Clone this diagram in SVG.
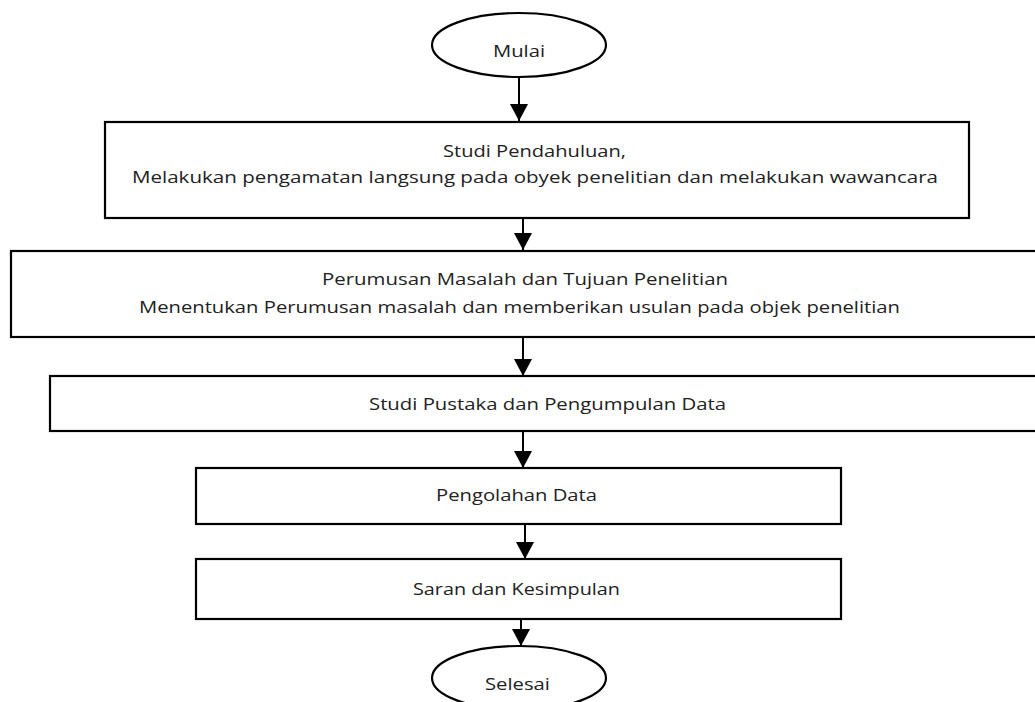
<svg xmlns="http://www.w3.org/2000/svg" width="1035" height="702" viewBox="0 0 1035 702">
<style>
.box{fill:#fff;stroke:#000;stroke-width:2.2}
.t{font-family:"Open Sans","Liberation Sans",sans-serif;font-size:16.5px;fill:#222;text-anchor:start}
.c{stroke:#000;stroke-width:2;fill:none}
</style>
<defs>
<marker id="ah" markerUnits="userSpaceOnUse" markerWidth="18" markerHeight="18" refX="17" refY="9" orient="auto">
<path d="M0,0 L17,9 L0,18 Z" fill="#000"/>
</marker>
</defs>
<rect width="1035" height="702" fill="#fff"/>
<g id="connectors">
<line class="c" x1="519" y1="77" x2="519" y2="121" marker-end="url(#ah)"/>
<line class="c" x1="523" y1="218" x2="523" y2="250" marker-end="url(#ah)"/>
<line class="c" x1="523" y1="337" x2="523" y2="376" marker-end="url(#ah)"/>
<line class="c" x1="523" y1="431" x2="523" y2="468" marker-end="url(#ah)"/>
<line class="c" x1="525" y1="524" x2="525" y2="559" marker-end="url(#ah)"/>
<line class="c" x1="521" y1="619" x2="521" y2="646" marker-end="url(#ah)"/>
</g>
<g id="mulai">
<ellipse class="box" cx="519" cy="45" rx="87" ry="32"/>
<text class="t" x="493" y="57" textLength="52" lengthAdjust="spacingAndGlyphs">Mulai</text>
</g>
<g id="studi-pendahuluan">
<rect class="box" x="105" y="122" width="864" height="96"/>
<text class="t" x="443" y="157" textLength="183" lengthAdjust="spacingAndGlyphs">Studi Pendahuluan,</text>
<text class="t" x="132" y="183" textLength="806" lengthAdjust="spacingAndGlyphs">Melakukan pengamatan langsung pada obyek penelitian dan melakukan wawancara</text>
</g>
<g id="perumusan">
<rect class="box" x="11" y="251" width="1040" height="86"/>
<text class="t" x="322" y="285" textLength="406" lengthAdjust="spacingAndGlyphs">Perumusan Masalah dan Tujuan Penelitian</text>
<text class="t" x="139" y="313" textLength="761" lengthAdjust="spacingAndGlyphs">Menentukan Perumusan masalah dan memberikan usulan pada objek penelitian</text>
</g>
<g id="studi-pustaka">
<rect class="box" x="50" y="376" width="1000" height="55"/>
<text class="t" x="369" y="410" textLength="357" lengthAdjust="spacingAndGlyphs">Studi Pustaka dan Pengumpulan Data</text>
</g>
<g id="pengolahan">
<rect class="box" x="196" y="468" width="645" height="56"/>
<text class="t" x="436" y="501" textLength="161" lengthAdjust="spacingAndGlyphs">Pengolahan Data</text>
</g>
<g id="saran">
<rect class="box" x="196" y="559" width="645" height="60"/>
<text class="t" x="413" y="595" textLength="207" lengthAdjust="spacingAndGlyphs">Saran dan Kesimpulan</text>
</g>
<g id="selesai">
<ellipse class="box" cx="519" cy="678" rx="87" ry="32"/>
<text class="t" x="485" y="690" textLength="65" lengthAdjust="spacingAndGlyphs">Selesai</text>
</g>
</svg>
